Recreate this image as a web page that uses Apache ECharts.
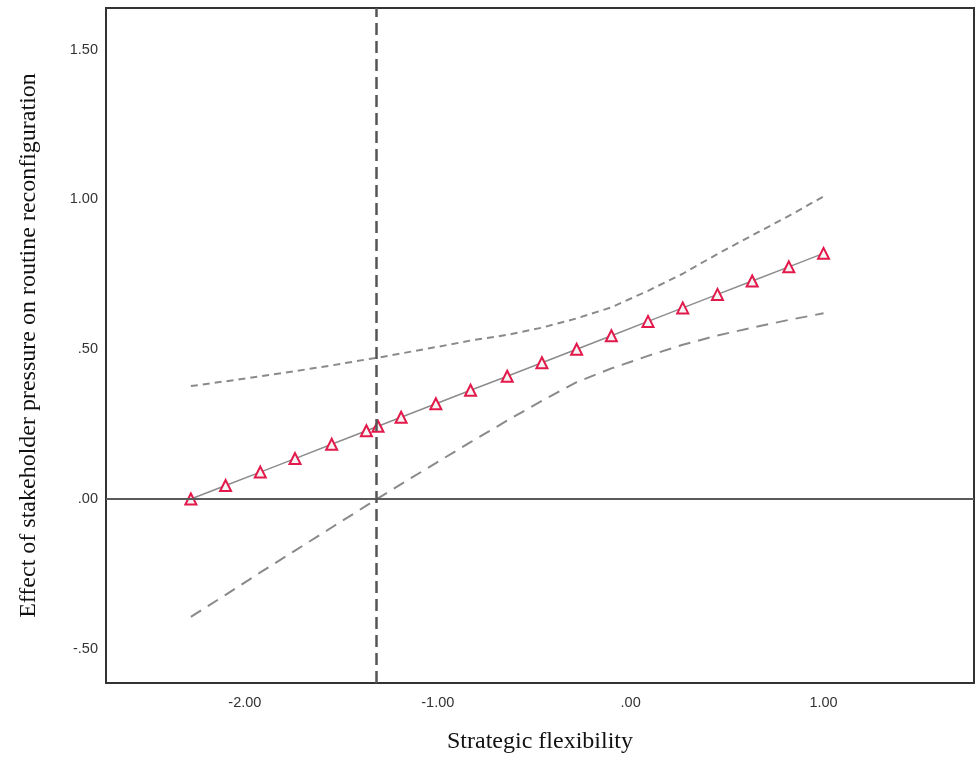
<!DOCTYPE html>
<html>
<head>
<meta charset="utf-8">
<script src="https://cdn.jsdelivr.net/npm/echarts@6/dist/echarts.min.js"></script>
<style>
html,body{margin:0;padding:0;background:#fff;}
#chart{width:977px;height:757px;}
</style>
</head>
<body>
<div id="chart"></div>
<script>
// Moderator values (Strategic flexibility), incl. Johnson-Neyman point -1.31
const flexibility = [-2.28, -2.10, -1.92, -1.74, -1.55, -1.37, -1.31, -1.19, -1.01, -0.83, -0.64, -0.46, -0.28, -0.10, 0.09, 0.27, 0.45, 0.63, 0.82, 1.00];
const effect      = [0.000, 0.045, 0.090, 0.135, 0.183, 0.228, 0.243, 0.273, 0.318, 0.363, 0.410, 0.455, 0.500, 0.545, 0.593, 0.638, 0.683, 0.728, 0.775, 0.820];
const upperCI     = [0.377, 0.393, 0.410, 0.427, 0.446, 0.466, 0.472, 0.486, 0.507, 0.529, 0.548, 0.572, 0.603, 0.640, 0.695, 0.752, 0.818, 0.880, 0.945, 1.010];
const lowerCI     = [-0.393, -0.320, -0.245, -0.172, -0.095, -0.022, 0.002, 0.050, 0.120, 0.190, 0.262, 0.328, 0.390, 0.436, 0.478, 0.515, 0.546, 0.572, 0.598, 0.620];
const jnPoint = -1.32;
const xTicks = [-2, -1, 0, 1];
const yTicks = [-0.5, 0, 0.5, 1.0, 1.5];

function fmt(v) {
  let s = Math.abs(v).toFixed(2);
  if (s.charAt(0) === '0') s = s.slice(1);
  return (v < 0 ? '-' : '') + s;
}
const pair = arr => flexibility.map((x, i) => [x, arr[i]]);

const chart = echarts.init(document.getElementById('chart'), null, {renderer: 'canvas'});
chart.setOption({
  animation: false,
  backgroundColor: '#fff',
  grid: {left: 106, top: 8, right: 3, bottom: 74, outerBoundsMode: 'none', containLabel: false,
         show: true, borderColor: '#333', borderWidth: 2, backgroundColor: 'transparent'},
  xAxis: {
    type: 'value', min: -2.72, max: 1.78,
    name: 'Strategic flexibility', nameLocation: 'middle', nameGap: 47,
    nameTextStyle: {fontFamily: 'Liberation Serif', fontSize: 24, color: '#111'},
    axisLine: {show: true, onZero: false, lineStyle: {color: '#333', width: 2}},
    axisTick: {show: false},
    splitLine: {show: false},
    axisLabel: {customValues: xTicks, formatter: fmt, fontFamily: 'Liberation Sans', fontSize: 14.5, color: '#333', margin: 12}
  },
  yAxis: {
    type: 'value', min: -0.614, max: 1.639,
    name: 'Effect of stakeholder pressure on routine reconfiguration', nameLocation: 'middle', nameGap: 65,
    nameTextStyle: {fontFamily: 'Liberation Serif', fontSize: 24, color: '#111'},
    axisLine: {show: true, onZero: false, lineStyle: {color: '#333', width: 2}},
    axisTick: {show: false},
    splitLine: {show: false},
    axisLabel: {customValues: yTicks, formatter: fmt, fontFamily: 'Liberation Sans', fontSize: 14.5, color: '#333', margin: 8}
  },
  series: [
    {
      type: 'line', data: [], z: 1,
      markLine: {
        silent: true, symbol: ['none', 'none'], label: {show: false},
        data: [
          {yAxis: 0, lineStyle: {color: '#5a5a5a', width: 2, type: 'solid'}},
          {xAxis: jnPoint, lineStyle: {color: '#555', width: 2.5, type: [12, 6]}}
        ]
      }
    },
    {
      type: 'line', data: pair(upperCI), showSymbol: false, symbol: 'none', z: 2,
      lineStyle: {color: '#8a8a8a', width: 2, type: [7, 5]}
    },
    {
      type: 'line', data: pair(lowerCI), showSymbol: false, symbol: 'none', z: 2,
      lineStyle: {color: '#8a8a8a', width: 2, type: [12, 8]}
    },
    {
      type: 'line', data: pair(effect), z: 3,
      symbol: 'triangle', symbolSize: 11,
      lineStyle: {color: '#8c8c8c', width: 1.5},
      itemStyle: {color: '#f4f4f4', borderColor: '#e3194b', borderWidth: 2}
    }
  ]
});
</script>
</body>
</html>
